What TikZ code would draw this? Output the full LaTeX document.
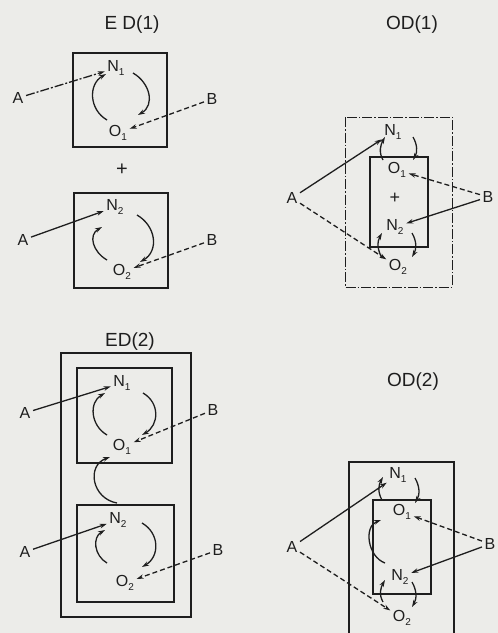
\documentclass[tikz,border=0pt]{standalone}
\usepackage{fontspec}
\setmainfont{Liberation Sans}
\usetikzlibrary{arrows.meta,calc}
\definecolor{ink}{RGB}{30,30,30}
\definecolor{paper}{RGB}{236,236,233}
\newcommand\lsub[1]{\raisebox{-3.5pt}{\fontsize{10}{10}\selectfont #1}}
\begin{document}
\begin{tikzpicture}[x=1pt,y=-1pt,
  lab/.style={inner sep=2.5pt,font=\fontsize{16}{16}\selectfont,text=ink},
  ttl/.style={inner sep=1pt,font=\fontsize{19}{19}\selectfont,text=ink},
  boxln/.style={draw=ink,line width=1.1pt},
  hd/.style={-{Stealth[length=7pt,width=4.5pt]}},
  conn/.style={draw=ink,line width=1.3pt,hd},
  dsh/.style={conn,dash pattern=on 5pt off 3pt},
  cyc/.style={draw=ink,line width=1.3pt,hd},
]
\fill[paper] (0,0) rectangle (498,633);
\useasboundingbox (0,0) rectangle (498,633);

% ---------------- ED(1)
\node[ttl] (t1) at (132,25) {E D(1)};
\draw[boxln] (73,53) rectangle (167,147);
\node[lab] (n1a) at (116,68) {N\lsub{1}};
\node[lab] (o1a) at (118,133) {O\lsub{1}};
\node[lab] (a1a) at (18,98) {A};
\node[lab] (b1a) at (212,99) {B};
\draw[conn,dash pattern=on 9pt off 2pt on 2pt off 2pt] (a1a) -- (n1a);
\draw[dsh] (b1a) -- (o1a);
\draw[cyc] ($(o1a)+(-11,-13)$) to[out=150,in=210,looseness=1.15] ($(n1a)+(-10,6)$);
\draw[cyc] ($(n1a)+(17,5)$) to[out=-30,in=30,looseness=1.2] ($(o1a)+(20,-18)$);

\node[lab,font=\fontsize{20}{20}\selectfont] (p1) at (122,170) {+};

\draw[boxln] (74,193) rectangle (168,288);
\node[lab] (n2a) at (115,207) {N\lsub{2}};
\node[lab] (o2a) at (122,272) {O\lsub{2}};
\node[lab] (a2a) at (23,240) {A};
\node[lab] (b2a) at (212,240) {B};
\draw[conn] (a2a) -- (n2a);
\draw[dsh] (b2a) -- (o2a);
\draw[cyc] ($(o2a)+(-15,-12)$) to[out=150,in=210,looseness=1.25] ($(n2a)+(-13,20)$);
\draw[cyc] ($(n2a)+(22,8)$) to[out=-30,in=30,looseness=1.2] ($(o2a)+(18,-10)$);

% ---------------- ED(2)
\node[ttl] (t2) at (130,342) {ED(2)};
\draw[boxln] (61,353) rectangle (191,617);
\draw[boxln] (77,368) rectangle (172,463);
\draw[boxln] (77,505) rectangle (174,602);
\node[lab] (n1b) at (122,383) {N\lsub{1}};
\node[lab] (o1b) at (122,447) {O\lsub{1}};
\node[lab] (a1b) at (25,413) {A};
\node[lab] (b1b) at (213,410) {B};
\draw[conn] (a1b) -- (n1b);
\draw[dsh] (b1b) -- (o1b);
\draw[cyc] ($(o1b)+(-15,-12)$) to[out=150,in=210,looseness=1.15] ($(n1b)+(-17,10)$);
\draw[cyc] ($(n1b)+(21,10)$) to[out=-30,in=30,looseness=1.2] ($(o1b)+(20,-12)$);

\node[lab] (n2b) at (118,520) {N\lsub{2}};
\node[lab] (o2b) at (125,583) {O\lsub{2}};
\node[lab] (a2b) at (25,552) {A};
\node[lab] (b2b) at (218,550) {B};
\draw[conn] (a2b) -- (n2b);
\draw[dsh] (b2b) -- (o2b);
\draw[cyc] ($(o2b)+(-18,-20)$) to[out=150,in=210,looseness=1.15] ($(n2b)+(-13,10)$);
\draw[cyc] ($(n2b)+(24,3)$) to[out=-30,in=30,looseness=1.2] ($(o2b)+(17,-16)$);

\draw[cyc] ($(n2b)+(-1,-17)$) to[out=170,in=200,looseness=1.4] ($(o1b)+(-12,10)$);

% ---------------- OD(1)
\node[ttl] (t3) at (412,25) {OD(1)};
\draw[boxln,line width=0.9pt,dash pattern=on 10pt off 2pt on 1.5pt off 2pt] (345,117) rectangle (452,287);
\draw[boxln] (370,157) rectangle (428,247);
\node[lab] (n1c) at (393,132) {N\lsub{1}};
\node[lab] (o1c) at (397,170) {O\lsub{1}};
\node[lab,font=\fontsize{18}{18}\selectfont] (p3) at (395,198) {+};
\node[lab] (n2c) at (395,227) {N\lsub{2}};
\node[lab] (o2c) at (398,267) {O\lsub{2}};
\node[lab] (a3) at (292,198) {A};
\node[lab] (b3) at (488,197) {B};
\draw[conn] (a3) -- (n1c);
\draw[dsh] (a3) -- (o2c);
\draw[dsh] (b3) -- (o1c);
\draw[conn] (b3) -- (n2c);
\draw[cyc] ($(o1c)+(-14,-10)$) to[out=120,in=240] ($(n1c)+(-8,5)$);
\draw[cyc] ($(n1c)+(20,5)$) to[out=-60,in=60] ($(o1c)+(16,-10)$);
\draw[cyc] ($(o2c)+(-16,-9)$) to[out=120,in=240] ($(n2c)+(-13,6)$);
\draw[cyc] ($(n2c)+(17,6)$) to[out=-60,in=60] ($(o2c)+(14,-10)$);

% ---------------- OD(2)
\node[ttl] (t4) at (413,382) {OD(2)};
\draw[boxln] (349,462) rectangle (454,645);
\draw[boxln] (373,500) rectangle (431,594);
\node[lab] (n1d) at (398,475) {N\lsub{1}};
\node[lab] (o1d) at (402,512) {O\lsub{1}};
\node[lab] (n2d) at (400,577) {N\lsub{2}};
\node[lab] (o2d) at (402,618) {O\lsub{2}};
\node[lab] (a4) at (292,547) {A};
\node[lab] (b4) at (490,544) {B};
\draw[conn] (a4) -- (n1d);
\draw[dsh] (a4) -- (o2d);
\draw[dsh] (b4) -- (o1d);
\draw[conn] (b4) -- (n2d);
\draw[cyc] ($(o1d)+(-20,-12)$) to[out=120,in=240] ($(n1d)+(-15,2)$);
\draw[cyc] ($(n1d)+(17,3)$) to[out=-60,in=60] ($(o1d)+(13,-9)$);
\draw[cyc] ($(o2d)+(-19,-16)$) to[out=120,in=240] ($(n2d)+(-15,3)$);
\draw[cyc] ($(n2d)+(12,5)$) to[out=-60,in=60] ($(o2d)+(10,-11)$);
\draw[cyc] ($(n2d)+(-15,-14)$) to[out=160,in=200,looseness=1.1] ($(o1d)+(-21,8)$);
\end{tikzpicture}
\end{document}
